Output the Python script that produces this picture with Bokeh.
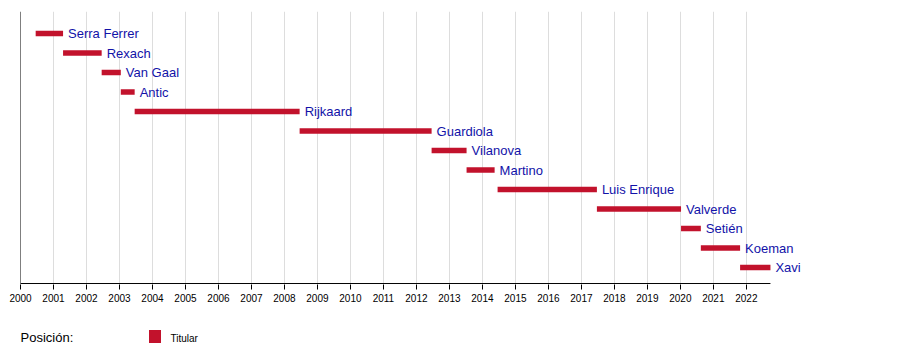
from bokeh.plotting import figure
from bokeh.models import Range1d, Span, LabelSet, ColumnDataSource, FixedTicker
from bokeh.layouts import column
from bokeh.core.properties import value
from bokeh.embed import file_html
from bokeh.resources import INLINE

names = ["Serra Ferrer", "Rexach", "Van Gaal", "Antic", "Rijkaard", "Guardiola", "Vilanova",
         "Martino", "Luis Enrique", "Valverde", "Setién", "Koeman", "Xavi"]
starts = [2000.46, 2001.29, 2002.46, 2003.04, 2003.46, 2008.46, 2012.46, 2013.52, 2014.46,
          2017.47, 2020.02, 2020.62, 2021.81]
ends = [2001.29, 2002.46, 2003.04, 2003.46, 2008.46, 2012.46, 2013.52, 2014.37, 2017.47,
        2020.02, 2020.62, 2021.81, 2022.73]
years = list(range(2000, 2023))
axis_start, axis_end = 2000, 2022.73
legend_title = "Posición:"
legend_item = "Titular"

BAR = "#c2122c"
TXT = "#1212a8"
FONT = "Liberation Sans"

rows = list(range(len(names)))
src = ColumnDataSource(dict(name=names, start=starts, end=ends, row=rows))

p = figure(width=884, height=305, output_backend="svg", toolbar_location=None,
           x_range=Range1d(axis_start, 2024.55), y_range=Range1d(12.87, -1.128),
           min_border_left=20, min_border_top=11, min_border_right=54, min_border_bottom=21)
p.outline_line_color = None
p.background_fill_color = "white"
p.border_fill_color = "white"

p.yaxis.visible = False
p.ygrid.visible = False
p.xgrid.ticker = FixedTicker(ticks=years)
p.xgrid.grid_line_color = "#dddddd"
p.xaxis.ticker = FixedTicker(ticks=years)
p.xaxis.minor_tick_line_color = None
p.xaxis.major_tick_in = 0
p.xaxis.major_tick_out = 5
p.xaxis.axis_line_color = None
p.xaxis.major_tick_line_color = "black"
p.xaxis.major_label_text_font = FONT
p.xaxis.major_label_text_font_size = "10px"
p.xaxis.major_label_text_color = "black"
p.xaxis.major_label_standoff = 4

# axis lines (left vertical, bottom horizontal ending at the last date)
p.add_layout(Span(location=axis_start, dimension="height", line_color="black", line_width=1))
p.segment(x0=[axis_start], x1=[axis_end], y0=[12.82], y1=[12.82], line_color="black", line_width=1)

p.hbar(y="row", left="start", right="end", height=0.28, source=src,
       fill_color=BAR, line_color=None)

labels = LabelSet(x="end", y="row", text="name", source=src, x_offset=5,
                  text_baseline="middle", text_font=value(FONT), text_font_size=value("13px"),
                  text_color=TXT)
p.add_layout(labels)

# legend strip below (frame aligned with the main chart: pixels 20..830)
lg = figure(width=884, height=58, output_backend="svg", toolbar_location=None,
            x_range=Range1d(20, 830), y_range=Range1d(58, 0),
            min_border_left=20, min_border_right=54, min_border_top=0, min_border_bottom=0)
lg.axis.visible = False
lg.grid.visible = False
lg.outline_line_color = None
lg.text(x=[20], y=[32], text=[legend_title], text_font=value(FONT), text_font_size="13px",
        text_color="black", text_baseline="middle")
lg.rect(x=[154.5], y=[31], width=12, height=13, fill_color=BAR, line_color=None)
lg.text(x=[170], y=[33], text=[legend_item], text_font=value(FONT), text_font_size="10px",
        text_color="black", text_baseline="middle")

open("out.html", "w").write(file_html(column(p, lg, spacing=0), INLINE))
